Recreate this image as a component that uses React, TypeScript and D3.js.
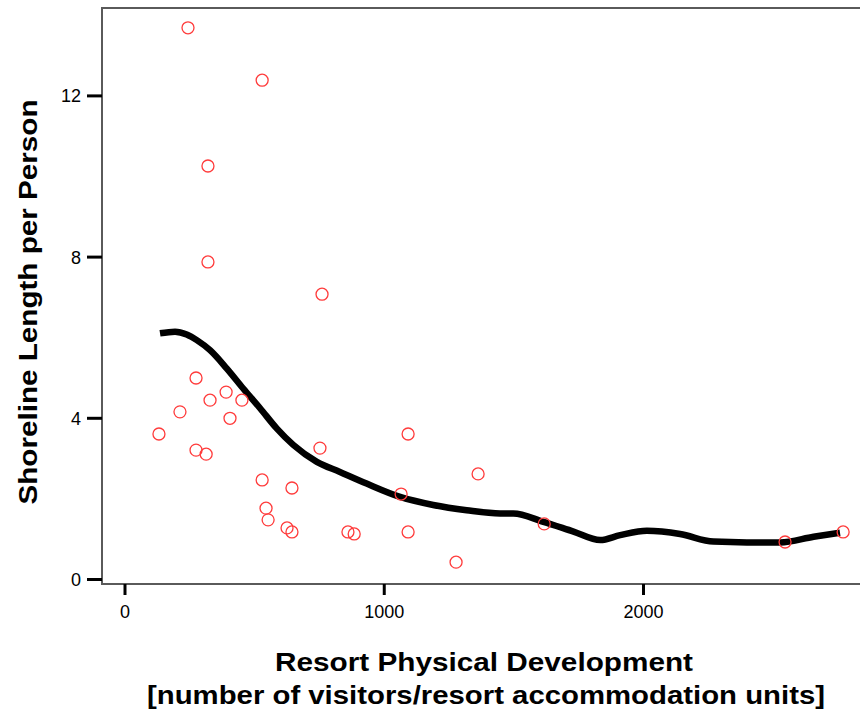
import React from "react";
import * as d3 from "d3";

const pointX = [131, 212, 274, 274, 313, 328, 390, 405, 451, 243, 529, 320, 320, 760, 529, 544, 552, 625, 644, 644, 752, 860, 884, 1065, 1092, 1092, 1277, 1362, 1617, 2546, 2770];
const pointY = [3.61, 4.16, 5.0, 3.21, 3.11, 4.45, 4.65, 4.0, 4.45, 13.69, 12.39, 10.26, 7.88, 7.08, 2.47, 1.77, 1.48, 1.28, 1.18, 2.27, 3.26, 1.18, 1.13, 2.12, 3.61, 1.18, 0.43, 2.62, 1.38, 0.93, 1.18];

const curveX = [135, 193, 238, 277, 328, 392, 456, 521, 585, 649, 740, 829, 932, 1061, 1189, 1318, 1447, 1498, 1614, 1730, 1833, 1910, 2013, 2141, 2270, 2399, 2527, 2656, 2758];
const curveY = [6.11, 6.15, 6.08, 5.94, 5.69, 5.24, 4.74, 4.25, 3.75, 3.34, 2.92, 2.67, 2.38, 2.05, 1.85, 1.72, 1.64, 1.64, 1.43, 1.19, 0.98, 1.10, 1.21, 1.13, 0.94, 0.92, 0.92, 1.06, 1.16];

const xTicks = [0, 1000, 2000];
const yTicks = [0, 4, 8, 12];

const xTitle1 = "Resort Physical Development";
const xTitle2 = "[number of visitors/resort accommodation units]";
const yTitle = "Shoreline Length per Person";

export default function App() {
  const W = 860, H = 715;
  const x = d3.scaleLinear().domain([0, 2000]).range([125, 643.5]);
  const y = d3.scaleLinear().domain([0, 12]).range([579.5, 95.9]);
  const left = 102, top = 8, bottom = 584;

  const line = d3
    .line<number>()
    .x((_, i) => x(curveX[i]))
    .y((d) => y(d))
    .curve(d3.curveMonotoneX);

  const font = "'Liberation Sans', Arial, sans-serif";

  return (
    <svg width={W} height={H} style={{ position: "absolute", left: 0, top: 0, background: "#fff" }}>
      <rect x={0} y={0} width={W} height={H} fill="#fff" />
      <rect x={left} y={top} width={820} height={bottom - top} fill="none" stroke="#5a5a5a" strokeWidth={2} />
      {yTicks.map((t) => (
        <g key={"y" + t}>
          <line x1={left - 15} x2={left} y1={y(t)} y2={y(t)} stroke="#000" strokeWidth={3} />
          <text x={left - 21} y={y(t)} dy="0.36em" textAnchor="end" fontFamily={font} fontSize={18} fill="#000">
            {t}
          </text>
        </g>
      ))}
      {xTicks.map((t) => (
        <g key={"x" + t}>
          <line x1={x(t)} x2={x(t)} y1={bottom} y2={bottom + 11} stroke="#000" strokeWidth={3} />
          <text x={x(t)} y={618} textAnchor="middle" fontFamily={font} fontSize={18} fill="#000">
            {t}
          </text>
        </g>
      ))}
      <path d={line(curveY) || ""} fill="none" stroke="#000" strokeWidth={6.5} />
      {pointX.map((px, i) => (
        <circle key={i} cx={x(px)} cy={y(pointY[i])} r={6} fill="none" stroke="#ff3b3b" strokeWidth={1.3} />
      ))}
      <text x={484} y={671} textAnchor="middle" fontFamily={font} fontWeight="bold" fontSize={26} textLength={418} lengthAdjust="spacingAndGlyphs" fill="#000">
        {xTitle1}
      </text>
      <text x={486} y={704} textAnchor="middle" fontFamily={font} fontWeight="bold" fontSize={26} textLength={678} lengthAdjust="spacingAndGlyphs" fill="#000">
        {xTitle2}
      </text>
      <text
        transform={`translate(37, 302) rotate(-90)`}
        textAnchor="middle"
        fontFamily={font}
        fontWeight="bold"
        fontSize={26}
        textLength={405}
        lengthAdjust="spacingAndGlyphs"
        fill="#000"
      >
        {yTitle}
      </text>
    </svg>
  );
}
